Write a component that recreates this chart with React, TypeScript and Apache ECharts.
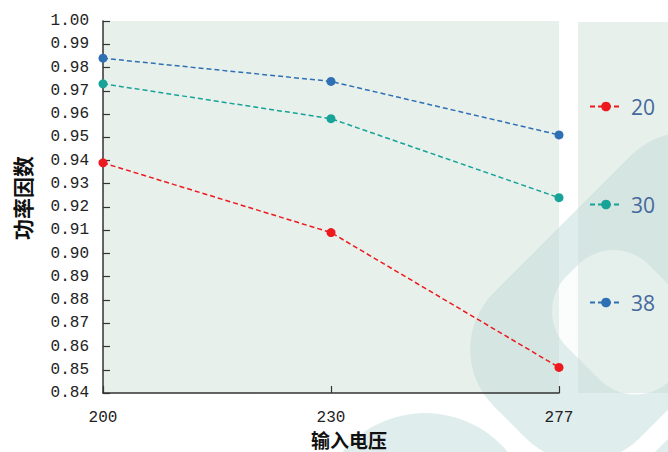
import React, { useEffect, useRef } from "react";
import * as echarts from "echarts";

const categories = ["200", "230", "277"];
const seriesNames = ["20", "30", "38"];
const values20 = [0.939, 0.909, 0.851];
const values30 = [0.973, 0.958, 0.924];
const values38 = [0.984, 0.974, 0.951];
const seriesColors = ["#ec1a1f", "#17a397", "#2f70b4"];
const xName = "输入电压";
const yName = "功率因数";

export default function App() {
  const ref = useRef<HTMLDivElement>(null);
  useEffect(() => {
    if (!ref.current) return;
    const chart = echarts.init(ref.current, undefined, { renderer: "svg" });
    const teal = "#e0eded";
    const overlay = "rgba(196,216,206,0.39)";
    const valueSets = [values20, values30, values38];
    chart.setOption({
      animation: false,
      backgroundColor: "#ffffff",
      graphic: [
        // watermark shapes
        {
          type: "rect", silent: true, z: -20,
          x: 635, y: 297, rotation: Math.PI / 4,
          shape: { x: -177, y: -103, width: 354, height: 206, r: 80 },
          style: { fill: teal },
        },
        {
          type: "rect", silent: true, z: -19,
          x: 624, y: 322, rotation: Math.PI / 4,
          shape: { x: -58, y: -73, width: 116, height: 147, r: 50 },
          style: { fill: "#fbfdfd" },
        },
        {
          type: "circle", silent: true, z: -20,
          shape: { cx: 425, cy: 520, r: 107 },
          style: { fill: teal },
        },
        {
          type: "rect", silent: true, z: -20,
          x: 756, y: 563, rotation: Math.PI / 4,
          shape: { x: -300, y: -150, width: 600, height: 300, r: 60 },
          style: { fill: teal },
        },
        // legend panel
        {
          type: "rect", silent: true, z: -5,
          shape: { x: 578, y: 22, width: 90, height: 371 },
          style: { fill: overlay },
        },
        // axis names
        {
          type: "text", silent: true,
          x: 22, y: 198, rotation: Math.PI / 2,
          style: {
            text: yName, fill: "#111", fontSize: 21, fontWeight: "bold",
            fontFamily: "Noto Sans CJK SC", align: "center", verticalAlign: "middle",
          },
        },
        {
          type: "text", silent: true,
          x: 349, y: 439,
          style: {
            text: xName, fill: "#111", fontSize: 19, fontWeight: "bold",
            fontFamily: "Noto Sans CJK SC", align: "center", verticalAlign: "middle",
          },
        },
      ],
      grid: {
        left: 103, right: 109, top: 21, bottom: 59,
        show: true, backgroundColor: overlay, borderWidth: 0,
      },
      legend: {
        orient: "vertical",
        left: 589, top: 96,
        padding: 0,
        itemGap: 77,
        itemWidth: 32,
        itemHeight: 12,
        data: seriesNames,
        textStyle: { color: "#44699c", fontSize: 21, fontFamily: "Open Sans", padding: [0, 0, 0, 4] },
      },
      xAxis: {
        type: "category",
        data: categories,
        boundaryGap: false,
        axisLine: { lineStyle: { color: "#333", width: 1.5 } },
        axisTick: { inside: true, length: 7, lineStyle: { color: "#333", width: 1.2 } },
        axisLabel: { color: "#222", fontSize: 16, fontFamily: "Liberation Mono", margin: 17 },
        splitLine: { show: false },
      },
      yAxis: {
        type: "value",
        min: 0.84, max: 1.0, interval: 0.01,
        axisLine: { show: true, lineStyle: { color: "#333", width: 1.5 } },
        axisTick: { show: true, inside: true, length: 7, lineStyle: { color: "#333", width: 1.2 } },
        axisLabel: {
          color: "#222", fontSize: 16, fontFamily: "Liberation Mono", margin: 14,
          formatter: (v: number) => v.toFixed(2),
        },
        splitLine: { show: false },
      },
      series: seriesNames.map((name, i) => ({
        name,
        type: "line",
        data: valueSets[i],
        symbol: "circle",
        symbolSize: 9,
        itemStyle: { color: seriesColors[i] },
        lineStyle: { color: seriesColors[i], width: 1.5, type: [5, 3] },
      })),
    });
    return () => chart.dispose();
  }, []);
  return (
    <div
      ref={ref}
      style={{ position: "fixed", left: 0, top: 0, width: 668, height: 452 }}
    />
  );
}
